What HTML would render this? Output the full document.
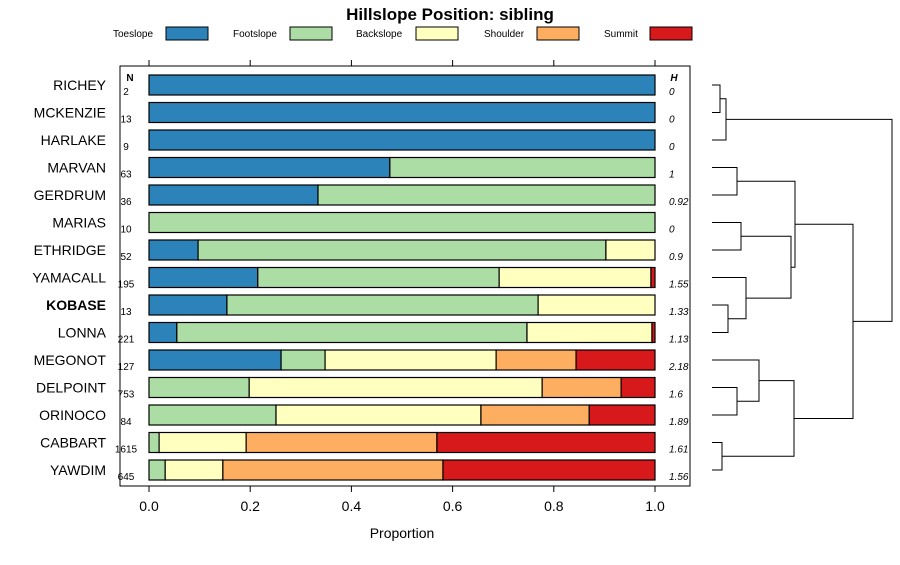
<!DOCTYPE html>
<html><head><meta charset="utf-8"><style>
html,body{margin:0;padding:0;background:#fff;}
svg{font-family:"Liberation Sans",sans-serif;}
</style></head><body>
<svg id="chart" width="900" height="560" viewBox="0 0 900 560" xmlns="http://www.w3.org/2000/svg">
<text x="450" y="20" text-anchor="middle" font-size="17" font-weight="bold">Hillslope Position: sibling</text>
<g id="legend"></g>
<rect x="120" y="66" width="570" height="420" fill="none" stroke="#000" stroke-width="1"/>
<g id="axis"></g>
<g id="bars"></g>
<g id="dendro" stroke="#000" stroke-width="1" fill="none"></g>
<text x="130" y="81" font-size="10" font-weight="bold" text-anchor="middle">N</text>
<text x="674" y="81" font-size="10" font-weight="bold" font-style="italic" text-anchor="middle">H</text>
<text x="402" y="538" font-size="14" text-anchor="middle">Proportion</text>
</svg>
<script>
const classes=["Toeslope","Footslope","Backslope","Shoulder","Summit"];
const colors=["#2b83ba","#abdda4","#ffffbf","#fdae61","#d7191c"];
const series=["RICHEY","MCKENZIE","HARLAKE","MARVAN","GERDRUM","MARIAS","ETHRIDGE","YAMACALL","KOBASE","LONNA","MEGONOT","DELPOINT","ORINOCO","CABBART","YAWDIM"];
const nCounts=[2,13,9,63,36,10,52,195,13,221,127,753,84,1615,645];
const hValues=["0","0","0","1","0.92","0","0.9","1.55","1.33","1.13","2.18","1.6","1.89","1.61","1.56"];
const toeslope=[1,1,1,0.476,0.334,0,0.097,0.215,0.154,0.055,0.261,0,0,0,0];
const footslope=[0,0,0,0.524,0.666,1,0.806,0.477,0.615,0.692,0.087,0.198,0.251,0.02,0.032];
const backslope=[0,0,0,0,0,0,0.097,0.300,0.231,0.247,0.338,0.579,0.405,0.172,0.114];
const shoulder=[0,0,0,0,0,0,0,0,0,0,0.158,0.156,0.214,0.377,0.435];
const summit=[0,0,0,0,0,0,0,0.008,0,0.006,0.156,0.067,0.130,0.431,0.419];
const xTicks=[0,0.2,0.4,0.6,0.8,1.0];
const xTickLabels=["0.0","0.2","0.4","0.6","0.8","1.0"];
const NS="http://www.w3.org/2000/svg";
function xs(v){return 149+v*506;}
function ys(i){return 85+i*27.5;}
function mk(tag,attrs,parent,text){const e=document.createElementNS(NS,tag);for(const k in attrs)e.setAttribute(k,attrs[k]);if(text!==undefined)e.textContent=text;parent.appendChild(e);return e;}
const lg=document.getElementById('legend');
const lgText=[113,233,356,484,604],lgBox=[166,290,416,537,650];
classes.forEach((c,i)=>{
 const t=mk('text',{x:lgText[i],y:37,'font-size':10},lg,c);
 
 
 const r=mk('rect',{x:lgBox[i],y:27,width:42,height:13,fill:colors[i],stroke:'#000','stroke-width':1},lg);
 
 
});
const ax=document.getElementById('axis');
xTicks.forEach((v,i)=>{
 const l=mk('line',{x1:xs(v),x2:xs(v),y1:486,y2:492,stroke:'#000'},ax);
 
 
 const l2=mk('line',{x1:xs(v),x2:xs(v),y1:60,y2:66,stroke:'#000'},ax);
 
 
 const t=mk('text',{x:xs(v),y:511,'font-size':14,'text-anchor':'middle'},ax,xTickLabels[i]);
 
 
});
const bars=document.getElementById('bars');
const all=[toeslope,footslope,backslope,shoulder,summit];
series.forEach((s,i)=>{
 const y=ys(i);
 const lab=mk('text',{x:106,y:y+5,'font-size':14,'text-anchor':'end','font-weight':s==='KOBASE'?'bold':'normal'},bars,s);
 
 
 const n=mk('text',{x:126,y:y+10,'font-size':10,'text-anchor':'middle'},bars,String(nCounts[i]));
 
 
 const h=mk('text',{x:669,y:y+10,'font-size':10,'font-style':'italic'},bars,hValues[i]);
 
 
 let cum=0;
 all.forEach((arr,k)=>{
  const v=arr[i]; if(v<=0)return;
  const r=mk('rect',{x:xs(cum),y:y-10,width:xs(cum+v)-xs(cum),height:20,fill:colors[k],stroke:'#000','stroke-width':1.2},bars);
  
  
  cum+=v;
 });
});
// dendrogram merges: [leftY, rightY, height x]
const leafX=712;
const merges=[[0,1,720],['A',2,726],[3,4,737],[5,6,741],[8,9,728],[7,'E',746],['D','F',791],['C','G',795],[11,12,737],[10,'I',759],[13,14,722],['J','K',794],['H','L',853],['B','M',892]];
const names="ABCDEFGHIJKLMN";
const node={},nodeX={};
const dg=document.getElementById('dendro');
merges.forEach((m,j)=>{
 const pos=a=>typeof a==='number'?[ys(a),leafX]:[node[a],nodeX[a]];
 const [y1,x1]=pos(m[0]),[y2,x2]=pos(m[1]);
 const p=mk('path',{d:`M${x1},${y1}H${m[2]}V${y2}H${x2}`},dg);
 
 
 node[names[j]]=(y1+y2)/2;nodeX[names[j]]=m[2];
});
</script>
</body></html>
